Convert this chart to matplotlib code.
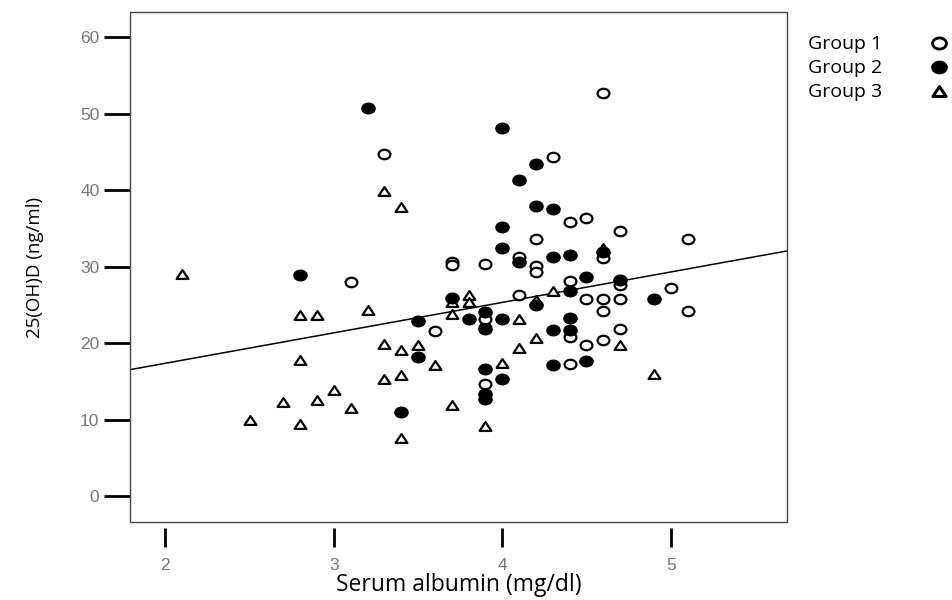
import matplotlib
matplotlib.use("Agg")
import matplotlib.pyplot as plt
import matplotlib.transforms as mtransforms
from matplotlib.path import Path
from matplotlib.patches import Rectangle
import numpy as np

# Group 1 (open circles)
g1_alb = [3.1, 3.3, 3.6, 3.7, 3.7, 3.9, 3.9, 3.9, 4.1, 4.1, 4.2, 4.2, 4.2, 4.3,
          4.4, 4.4, 4.4, 4.4, 4.5, 4.5, 4.5, 4.6, 4.6, 4.6, 4.6, 4.6, 4.7, 4.7,
          4.7, 4.7, 5.0, 5.1, 5.1]
g1_vitd = [28.0, 44.7, 21.6, 30.6, 30.2, 30.3, 23.1, 14.6, 31.3, 26.3, 33.6, 30.1,
           29.3, 44.4, 35.8, 28.1, 20.8, 17.3, 36.3, 25.7, 19.8, 52.7, 31.1, 25.7,
           24.2, 20.4, 34.7, 27.6, 25.7, 21.9, 27.2, 33.6, 24.2]

# Group 2 (filled circles)
g2_alb = [2.8, 3.2, 3.4, 3.5, 3.5, 3.7, 3.8, 3.9, 3.9, 3.9, 3.9, 3.9, 4.0, 4.0,
          4.0, 4.0, 4.0, 4.1, 4.1, 4.2, 4.2, 4.2, 4.3, 4.3, 4.3, 4.3, 4.4, 4.4,
          4.4, 4.4, 4.5, 4.5, 4.6, 4.7, 4.9]
g2_vitd = [28.9, 50.8, 11.0, 22.9, 18.2, 25.9, 23.1, 24.1, 21.8, 16.6, 13.3, 12.7,
           48.1, 35.2, 32.5, 23.1, 15.3, 41.3, 30.6, 43.4, 37.9, 25.0, 37.6, 31.2,
           21.7, 17.1, 31.5, 26.8, 23.3, 21.7, 28.6, 17.7, 31.9, 28.2, 25.8]

# Group 3 (triangles)
g3_alb = [2.1, 2.5, 2.7, 2.8, 2.8, 2.8, 2.9, 2.9, 3.0, 3.1, 3.2, 3.3, 3.3, 3.3,
          3.4, 3.4, 3.4, 3.4, 3.5, 3.6, 3.7, 3.7, 3.7, 3.8, 3.8, 3.9, 3.9, 4.0,
          4.1, 4.1, 4.2, 4.2, 4.3, 4.6, 4.7, 4.9]
g3_vitd = [29.0, 9.9, 12.3, 23.7, 17.8, 9.4, 23.7, 12.5, 13.9, 11.5, 24.3, 39.9,
           19.9, 15.3, 37.8, 19.1, 15.8, 7.6, 19.7, 17.1, 25.4, 23.8, 11.9, 26.3,
           25.4, 22.7, 9.1, 17.4, 23.2, 19.4, 25.6, 20.7, 26.8, 32.5, 19.7, 15.9]

# fitted line
fit_intercept = 9.4
fit_slope = 3.98

x_ticks = [2, 3, 4, 5]
y_ticks = [0, 10, 20, 30, 40, 50, 60]
group_names = ["Group 1", "Group 2", "Group 3"]

# slightly wide ellipse and flat triangle like the original
ellipse = Path.unit_circle().transformed(mtransforms.Affine2D().scale(1.0, 0.8))
tri = Path([(0, 0.75), (-1, -0.75), (1, -0.75), (0, 0.75)],
           [Path.MOVETO, Path.LINETO, Path.LINETO, Path.CLOSEPOLY])

fig = plt.figure(figsize=(9.52, 6), dpi=100)
ax = fig.add_axes([0.1366, 0.13, 0.69, 0.85])

xmin, xmax = 1.79, 5.69
ax.set_xlim(xmin, xmax)
ax.set_ylim(-3.4, 63.3)

xs = np.array([xmin, xmax])
ax.plot(xs, fit_intercept + fit_slope * xs, color="black", lw=1.1, zorder=2)

ax.plot(g3_alb, g3_vitd, linestyle="none", marker=tri, ms=8.5, mfc="white",
        mec="black", mew=1.6, zorder=3)
ax.plot(g1_alb, g1_vitd, linestyle="none", marker=ellipse, ms=8.5, mfc="white",
        mec="black", mew=1.6, zorder=4)
ax.plot(g2_alb, g2_vitd, linestyle="none", marker=ellipse, ms=9.5, mfc="black",
        mec="black", mew=1.0, zorder=5)

# box around the plot, ticks sit outside it
for s in ax.spines.values():
    s.set_visible(False)
ax.spines["bottom"].set_position(("outward", 4))
ax.add_patch(Rectangle((0, 0), 1, 1, transform=ax.transAxes, fill=False,
                       edgecolor="#444444", lw=1.0, clip_on=False, zorder=6))

ax.set_xticks(x_ticks)
ax.set_yticks(y_ticks)
ax.tick_params(axis="x", direction="out", length=14, width=2, pad=8,
               labelsize=12.5, labelcolor="#777777")
ax.tick_params(axis="y", direction="out", length=19, width=2, pad=3,
               labelsize=12.5, labelcolor="#777777")
for lab in ax.get_xticklabels() + ax.get_yticklabels():
    lab.set_family("Liberation Sans")

ax.set_xlabel("Serum albumin (mg/dl)", family="Open Sans", fontsize=16.5)
ax.xaxis.set_label_coords(0.5, -0.124)
ax.xaxis.label.set_va("center")
ax.set_ylabel("25(OH)D (ng/ml)", family="Open Sans", fontsize=13.5)
ax.yaxis.set_label_coords(-0.145, 0.5)
ax.yaxis.label.set_va("center")

# legend on the right, text then marker
leg_markers = [(ellipse, "white", 2.0, 10), (ellipse, "black", 1.0, 11),
               (tri, "white", 2.2, 9.5)]
for i, name in enumerate(group_names):
    yy = 0.927 - i * 0.04
    fig.text(0.849, yy, name, family="Open Sans", fontsize=14, va="center", ha="left")
    m, fc, ew, size = leg_markers[i]
    fig.add_artist(plt.Line2D([0.986], [yy + 0.002], marker=m, ms=size,
                              mfc=fc, mec="black", mew=ew, linestyle="none",
                              transform=fig.transFigure))

fig.savefig("out.png", dpi=100)
